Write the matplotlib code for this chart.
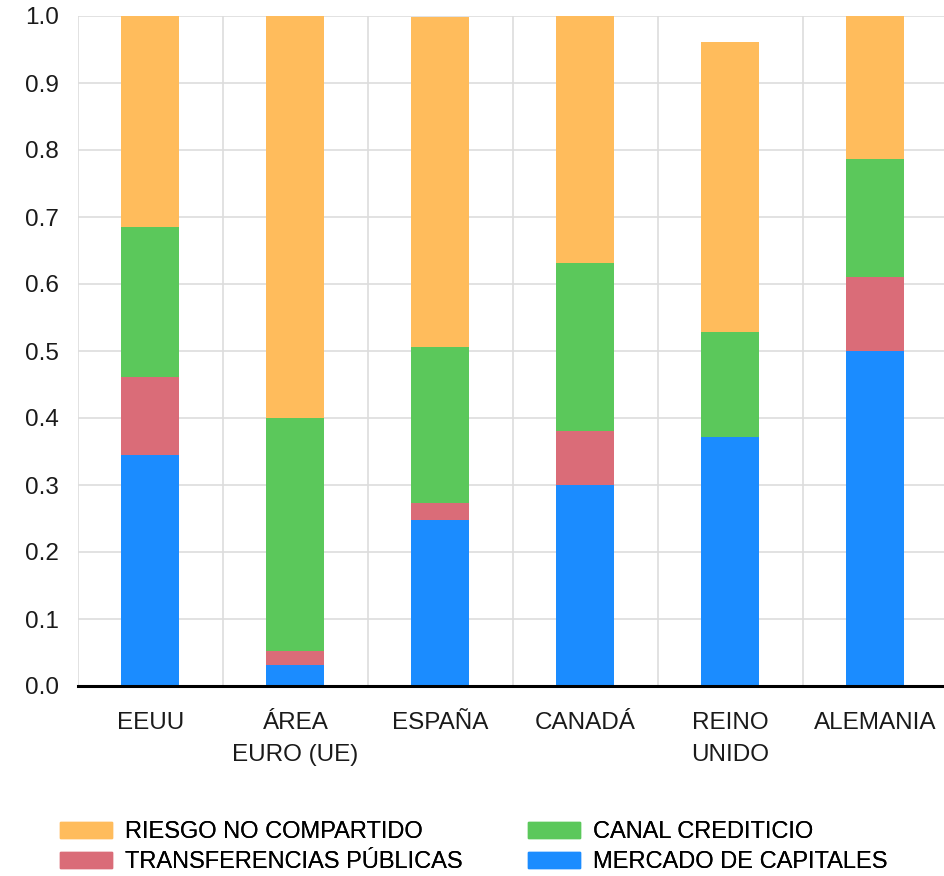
import matplotlib
matplotlib.use("Agg")
import matplotlib.pyplot as plt
from matplotlib.patches import Patch
import numpy as np

plt.rcParams['font.family'] = ['Liberation Sans', 'DejaVu Sans']

categories = ["EEUU", "ÁREA\nEURO (UE)", "ESPAÑA", "CANADÁ", "REINO\nUNIDO", "ALEMANIA"]
mercado_capitales = [0.345, 0.031, 0.248, 0.300, 0.372, 0.500]
transferencias = [0.116, 0.021, 0.025, 0.081, 0.000, 0.110]
canal_crediticio = [0.224, 0.348, 0.233, 0.250, 0.156, 0.177]
riesgo_no_compartido = [0.315, 0.600, 0.492, 0.369, 0.433, 0.213]
yticks = [0.0, 0.1, 0.2, 0.3, 0.4, 0.5, 0.6, 0.7, 0.8, 0.9, 1.0]

colors = {
    "MERCADO DE CAPITALES": "#1b8cff",
    "TRANSFERENCIAS PÚBLICAS": "#da6c78",
    "CANAL CREDITICIO": "#5bc85b",
    "RIESGO NO COMPARTIDO": "#ffbc5c",
}

fig = plt.figure(figsize=(9.45, 8.76), dpi=100)
W, H = 945, 876
ax = fig.add_axes([78 / W, (H - 686) / H, 870 / W, 670 / H])

x = np.arange(len(categories))
bw = 0.4
series = [
    ("MERCADO DE CAPITALES", mercado_capitales),
    ("TRANSFERENCIAS PÚBLICAS", transferencias),
    ("CANAL CREDITICIO", canal_crediticio),
    ("RIESGO NO COMPARTIDO", riesgo_no_compartido),
]
bottom = np.zeros(len(categories))
for name, vals in series:
    vals = np.array(vals)
    ax.bar(x, vals, bw, bottom=bottom, color=colors[name], zorder=3, linewidth=0)
    bottom += vals

ax.set_xlim(-0.5, 5.5)
ax.set_ylim(0, 1.0)
ax.set_yticks(yticks)
ax.set_yticklabels([f"{v:.1f}" for v in yticks], fontsize=17.5, color="#1a1a1a")
ax.set_xticks(x)
ax.set_xticklabels(categories, fontsize=17.5, color="#1a1a1a", linespacing=1.55)
ax.tick_params(axis="both", length=0)
ax.tick_params(axis="y", pad=14)
ax.tick_params(axis="x", pad=19)

# gridlines: horizontal at every tick, vertical at category boundaries
for yv in yticks[1:]:
    ax.axhline(yv, color="#dddddd", lw=1.2, zorder=1)
for xb in np.arange(-0.5, 5.6, 1.0):
    ax.axvline(xb, color="#dddddd", lw=1.2, zorder=1)

for s in ["top", "right", "left"]:
    ax.spines[s].set_visible(False)
ax.spines["bottom"].set_color("black")
ax.spines["bottom"].set_linewidth(2.2)
ax.spines["bottom"].set_zorder(4)

legend_cols = [
    (60, ["RIESGO NO COMPARTIDO", "TRANSFERENCIAS PÚBLICAS"]),
    (528, ["CANAL CREDITICIO", "MERCADO DE CAPITALES"]),
]
leg_kw = dict(loc="upper left", frameon=False, fontsize=17,
              handlelength=2.2, handleheight=0.64, handletextpad=0.55,
              labelspacing=0.34, borderaxespad=0, borderpad=0)
for x0, names in legend_cols:
    hs = [Patch(color=colors[n], label=n) for n in names]
    leg = fig.legend(handles=hs, bbox_to_anchor=(x0 / W, 1 - 821 / H), **leg_kw)
    fig.add_artist(leg)

fig.savefig("out.png", dpi=100)
